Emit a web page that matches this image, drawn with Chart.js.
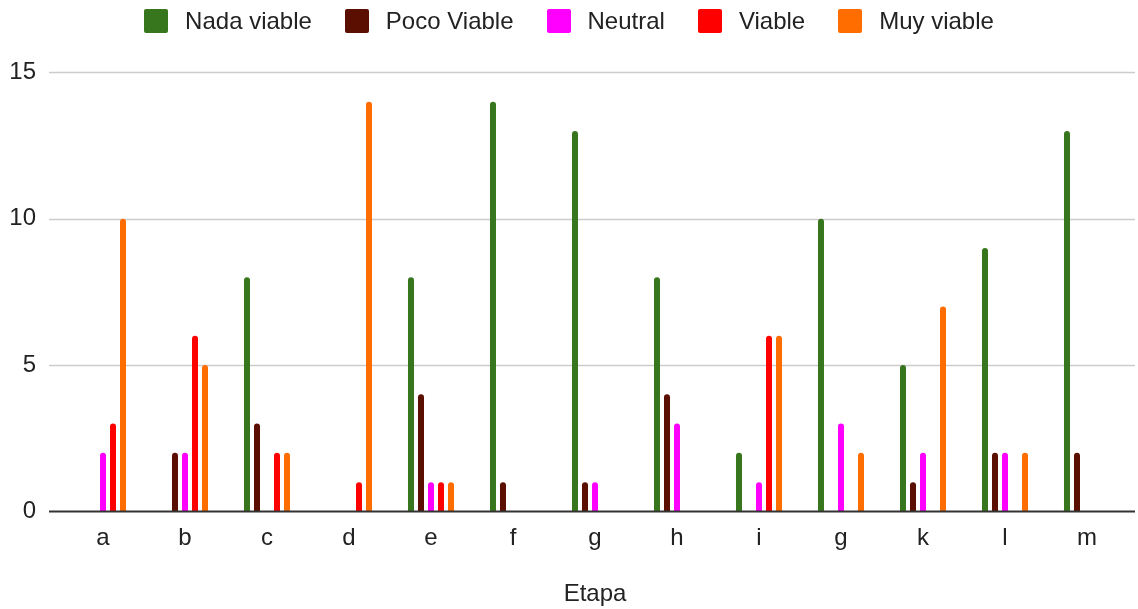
<!DOCTYPE html>
<html>
<head>
<meta charset="utf-8">
<script src="https://cdn.jsdelivr.net/npm/chart.js@4"></script>
<style>
  html, body { margin: 0; padding: 0; background: #fff; }
  body { font-family: 'Liberation Sans', Arial, sans-serif; position: relative; width: 1138px; height: 609px; }
  #legend {
    height: 42px; display: flex; justify-content: center; align-items: center;
    gap: 33px; font-size: 24px; color: #222; position: relative; z-index: 2;
  }
  #legend .item { display: flex; align-items: center; gap: 17px; }
  #legend .box { width: 24px; height: 24px; border-radius: 2px; }
  #wrap { width: 1138px; height: 577px; position: absolute; left: 0; top: 32px; }
</style>
</head>
<body>
<div id="legend"></div>
<div id="wrap"><canvas id="chart"></canvas></div>
<script>
const etapas = ['a', 'b', 'c', 'd', 'e', 'f', 'g', 'h', 'i', 'g', 'k', 'l', 'm'];

const nadaViable  = [0, 0, 8, 0, 8, 14, 13, 8, 2, 10, 5, 9, 13];
const pocoViable  = [0, 2, 3, 0, 4, 1, 1, 4, 0, 0, 1, 2, 2];
const neutral     = [2, 2, 0, 0, 1, 0, 1, 3, 1, 3, 2, 2, 0];
const viable      = [3, 6, 2, 1, 1, 0, 0, 0, 6, 0, 0, 0, 0];
const muyViable   = [10, 5, 2, 14, 1, 0, 0, 0, 6, 2, 7, 2, 0];

const yTicks = [0, 5, 10, 15];

const font = "'Liberation Sans', Arial, sans-serif";

function ds(label, data, color) {
  return {
    label, data,
    backgroundColor: color,
    borderRadius: { topLeft: 3, topRight: 3 },
    borderSkipped: 'start',
    barPercentage: 0.6,
    categoryPercentage: 0.61
  };
}

// gridlines run a bit past the plot edges, like the sheet export
const gridPlugin = {
  id: 'wideGrid',
  beforeDatasetsDraw(chart) {
    const { ctx, chartArea, scales } = chart;
    ctx.save();
    ctx.strokeStyle = '#cccccc';
    ctx.lineWidth = 1.5;
    yTicks.slice(1).forEach(v => {
      const y = Math.round(scales.y.getPixelForValue(v)) + 0.5;
      ctx.beginPath();
      ctx.moveTo(chartArea.left - 13, y);
      ctx.lineTo(chartArea.right + 7, y);
      ctx.stroke();
    });
    ctx.restore();
  },
  afterDatasetsDraw(chart) {
    const { ctx, chartArea, scales } = chart;
    const y = Math.round(scales.y.getPixelForValue(0)) + 0.5;
    ctx.save();
    ctx.strokeStyle = '#333';
    ctx.lineWidth = 2;
    ctx.beginPath();
    ctx.moveTo(chartArea.left - 13, y);
    ctx.lineTo(chartArea.right + 7, y);
    ctx.stroke();
    ctx.restore();
  }
};

const chart = new Chart(document.getElementById('chart'), {
  type: 'bar',
  data: {
    labels: etapas,
    datasets: [
      ds('Nada viable', nadaViable, '#38761d'),
      ds('Poco Viable', pocoViable, '#5b0f00'),
      ds('Neutral', neutral, '#ff00ff'),
      ds('Viable', viable, '#ff0000'),
      ds('Muy viable', muyViable, '#ff6d01')
    ]
  },
  plugins: [gridPlugin],
  options: {
    responsive: true,
    maintainAspectRatio: false,
    animation: false,
    layout: { padding: { left: 0, right: 10, top: 19, bottom: 0 } },
    plugins: {
      tooltip: { enabled: false },
      legend: { display: false }
    },
    scales: {
      x: {
        grid: { display: false },
        border: { display: false },
        ticks: { font: { family: font, size: 24 }, color: '#222', padding: 5 },
        title: {
          display: true, text: 'Etapa',
          font: { family: font, size: 24 }, color: '#222',
          padding: { top: 22, bottom: 0 }
        }
      },
      y: {
        min: 0, max: 15,
        afterBuildTicks(axis) { axis.ticks = yTicks.map(v => ({ value: v })); },
        afterFit(axis) { axis.width = 62; },
        grid: { display: false, drawTicks: false },
        border: { display: false },
        ticks: { font: { family: font, size: 24 }, color: '#222', padding: 26 }
      }
    }
  }
});

// html legend built from the datasets
const legendEl = document.getElementById('legend');
chart.data.datasets.forEach(d => {
  const item = document.createElement('div');
  item.className = 'item';
  const box = document.createElement('span');
  box.className = 'box';
  box.style.background = d.backgroundColor;
  const txt = document.createElement('span');
  txt.textContent = d.label;
  item.appendChild(box);
  item.appendChild(txt);
  legendEl.appendChild(item);
});
</script>
</body>
</html>
